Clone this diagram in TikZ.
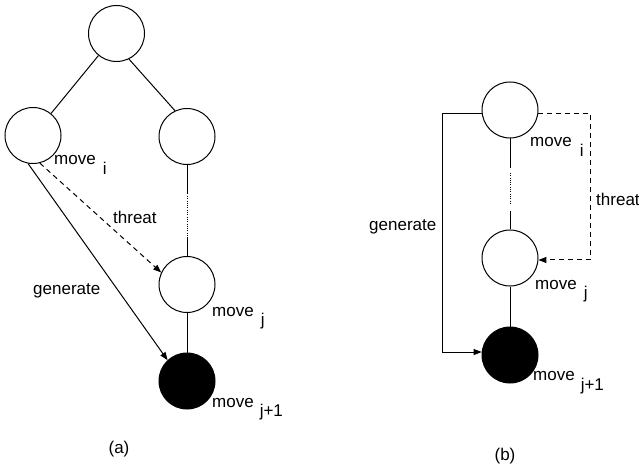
\documentclass[tikz,border=0pt]{standalone}
\usepackage{fontspec}
\setmainfont{Liberation Sans}
\usetikzlibrary{arrows.meta}
\begin{document}
\begin{tikzpicture}[x=1pt,y=-1pt,
  font=\fontsize{17}{20}\selectfont,
  state/.style={circle,draw,line width=1pt,minimum size=56pt,inner sep=0pt},
  solidstate/.style={state,fill=black},
  conn/.style={line width=1pt},
  dotline/.style={line width=1pt,dash pattern=on 1pt off 1.3pt},
  threatline/.style={line width=1pt,dash pattern=on 5pt off 4pt},
  tip/.style={-{Triangle[length=8pt,width=6pt]}},
  lab/.style={anchor=base west,inner sep=0pt}
]
\useasboundingbox (0,0) rectangle (639,470);
% ---------- (a) ----------
\node[state] (root) at (116.5,33.5) {};
\node[state] (lc) at (33,135.5) {};
\node[state] (rc) at (187,136.5) {};
\node[state] (mj) at (187,284.5) {};
\node[solidstate] (bc) at (187,381) {};
\draw[conn] (root) -- (lc);
\draw[conn] (root.-64) -- (rc.115);
\coordinate (ra1) at (187,194);
\coordinate (ra2) at (187,196);
\coordinate (ra3) at (187,237);
\draw[conn] (rc.south) -- (ra1);
\draw[dotline] (ra2) -- (ra3);
\draw[conn] (ra3) -- (mj.north);
\draw[conn] (mj) -- (bc);
\draw[conn,tip] (lc.-100) -- (bc.133);
\draw[threatline,tip] (lc.-76) -- (mj.155);
\node[lab] (lmi) at (54,165) {move\hspace{7pt}\raisebox{-10pt}{i}};
\node[lab] (lmj) at (212,316) {move\hspace{7pt}\raisebox{-9pt}{j}};
\node[lab] (lmk) at (212,407) {move\hspace{6pt}\raisebox{-9pt}{j+1}};
\node[lab] (lth) at (113,224) {threat};
\node[lab] (lge) at (33,294) {generate};
\node[anchor=base,inner sep=0pt] (capa) at (119,453) {(a)};
% ---------- (b) ----------
\node[state] (tb) at (510,110) {};
\node[state] (mb) at (510,258) {};
\node[solidstate] (bb) at (510,355) {};
\coordinate (rb1) at (510,168);
\coordinate (rb2) at (510,173);
\coordinate (rb3) at (510,203);
\coordinate (rb4) at (510,211);
\draw[conn] (tb.south) -- (rb1);
\draw[dotline] (rb2) -- (rb3);
\draw[conn] (rb4) -- (mb.north);
\draw[conn] (mb) -- (bb);
\draw[conn,tip] (tb.187) -- ++(-39,0) |- (bb.174);
\draw[threatline,tip] (tb.-7) -- ++(52,0) |- (mb.-4);
\node[lab] (rmi) at (530,147) {move\hspace{8pt}\raisebox{-10pt}{i}};
\node[lab] (rmj) at (535,289) {move\hspace{7pt}\raisebox{-9pt}{j}};
\node[lab] (rmk) at (533,380) {move\hspace{6pt}\raisebox{-10pt}{j+1}};
\node[lab] (rth) at (596,206) {threat};
\node[lab] (rge) at (369,231) {generate};
\node[anchor=base,inner sep=0pt] (capb) at (505,460) {(b)};
\end{tikzpicture}
\end{document}
